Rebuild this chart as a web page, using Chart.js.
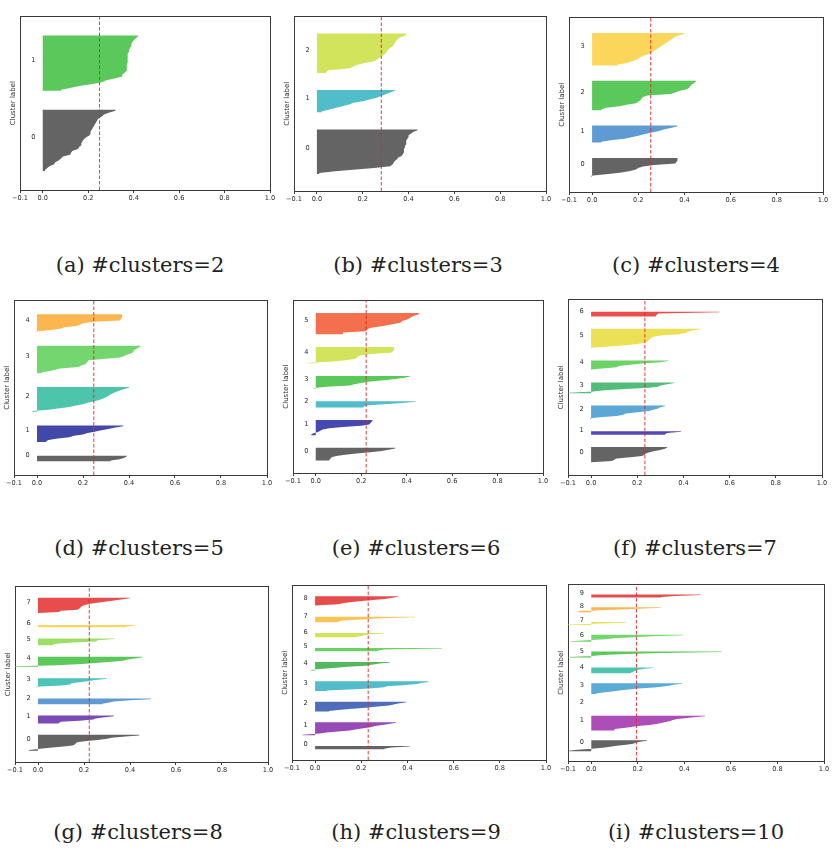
<!DOCTYPE html>
<html>
<head>
<meta charset="utf-8">
<script src="https://cdn.jsdelivr.net/npm/chart.js@4/dist/chart.umd.min.js"></script>
<style>
  html, body { margin: 0; padding: 0; background: #fff; }
  body { width: 832px; height: 852px; position: relative; overflow: hidden; }
  .panel { position: absolute; }
  .panel canvas { display: block; }
  .caption {
    position: absolute;
    font-family: "DejaVu Serif", "Liberation Serif", serif;
    font-size: 21px;
    color: #222;
    white-space: nowrap;
    transform: translate(-50%, -50%);
  }
</style>
</head>
<body>
<script>
// Silhouette coefficients per cluster, sorted ascending (one entry per sample),
// cluster 0 first. One array per clustering run.
const silK2 = [
  [0.01,0.02,0.03,0.05,0.055,0.07,0.08,0.09,0.12,0.125,0.13,0.155,0.16,0.17,0.17,0.175,0.18,0.19,0.205,0.21,0.21,0.215,0.22,0.225,0.23,0.235,0.24,0.245,0.26,0.27,0.29,0.32],
  [0.08,0.12,0.16,0.22,0.26,0.28,0.32,0.35,0.35,0.36,0.37,0.37,0.37,0.37,0.372,0.372,0.372,0.375,0.375,0.375,0.38,0.38,0.385,0.39,0.39,0.395,0.40,0.41,0.42]
];
const silK3 = [
  [0.01,0.08,0.17,0.25,0.32,0.33,0.335,0.34,0.35,0.355,0.37,0.375,0.38,0.38,0.38,0.385,0.385,0.39,0.39,0.39,0.395,0.40,0.40,0.41,0.42,0.44],
  [0.02,0.05,0.08,0.11,0.14,0.16,0.20,0.23,0.26,0.28,0.30,0.32,0.34],
  [0.04,0.05,0.14,0.155,0.17,0.20,0.24,0.26,0.27,0.28,0.29,0.30,0.305,0.31,0.32,0.33,0.335,0.34,0.345,0.35,0.36,0.38,0.39]
];
const silK4 = [
  [-0.005,0.06,0.12,0.16,0.19,0.20,0.22,0.27,0.36,0.365,0.37,0.37],
  [0.04,0.08,0.14,0.17,0.20,0.23,0.26,0.29,0.31,0.34,0.37],
  [0.04,0.06,0.12,0.15,0.19,0.20,0.21,0.215,0.22,0.24,0.34,0.36,0.38,0.41,0.42,0.425,0.43,0.44,0.45],
  [0.11,0.15,0.17,0.19,0.20,0.21,0.23,0.25,0.26,0.27,0.28,0.29,0.30,0.31,0.32,0.33,0.34,0.35,0.36,0.38,0.40]
];
const silK5 = [
  [0.32,0.36,0.38,0.39],
  [0.04,0.05,0.09,0.14,0.16,0.20,0.22,0.25,0.28,0.31,0.34,0.375],
  [-0.02,0.05,0.10,0.14,0.17,0.20,0.22,0.245,0.27,0.285,0.30,0.31,0.32,0.33,0.345,0.36,0.38,0.40],
  [0.02,0.05,0.08,0.10,0.18,0.19,0.21,0.215,0.22,0.225,0.30,0.36,0.38,0.39,0.41,0.42,0.42,0.43,0.44,0.45],
  [-0.005,0.06,0.10,0.12,0.17,0.19,0.20,0.25,0.36,0.365,0.37,0.37,0.37]
];
const silK6 = [
  [0.06,0.065,0.07,0.09,0.13,0.18,0.24,0.29,0.32,0.35],
  [-0.02,-0.01,0.01,0.02,0.03,0.06,0.12,0.20,0.235,0.24,0.245,0.25],
  [0.21,0.22,0.30,0.38,0.44],
  [-0.01,0.05,0.15,0.17,0.20,0.24,0.30,0.35,0.39,0.415],
  [-0.035,0.08,0.13,0.17,0.18,0.185,0.20,0.24,0.33,0.34,0.345,0.345,0.345],
  [0.12,0.12,0.22,0.225,0.23,0.25,0.29,0.32,0.35,0.375,0.38,0.40,0.41,0.42,0.43,0.45,0.455]
];
const silK7 = [
  [0.0,0.09,0.10,0.11,0.17,0.22,0.23,0.235,0.25,0.27,0.30,0.32,0.33],
  [0.32,0.33,0.39],
  [-0.005,0.05,0.11,0.14,0.15,0.20,0.25,0.27,0.29,0.30,0.32],
  [-0.10,0.01,0.06,0.15,0.25,0.29,0.30,0.33,0.36],
  [0.0,0.06,0.11,0.12,0.17,0.22,0.30,0.335],
  [0.0,0.08,0.15,0.20,0.23,0.245,0.25,0.255,0.26,0.27,0.30,0.38,0.41,0.42,0.44,0.475],
  [0.28,0.285,0.29,0.555]
];
const silK8 = [
  [-0.04,0.0,0.05,0.10,0.15,0.16,0.165,0.17,0.21,0.26,0.30,0.32,0.38,0.44],
  [0.09,0.10,0.18,0.24,0.25,0.29,0.33],
  [0.28,0.31,0.33,0.40,0.49],
  [-0.01,0.10,0.14,0.145,0.18,0.22,0.25,0.30],
  [-0.10,0.08,0.19,0.25,0.32,0.37,0.39,0.43,0.455],
  [0.065,0.08,0.15,0.25,0.26,0.335],
  [0.38,0.42],
  [0.0,0.09,0.10,0.17,0.18,0.185,0.19,0.20,0.22,0.25,0.29,0.33,0.36,0.40]
];
const silK9 = [
  [0.30,0.33,0.41],
  [-0.055,0.02,0.05,0.10,0.15,0.18,0.21,0.24,0.26,0.29,0.32,0.35],
  [0.06,0.10,0.16,0.22,0.26,0.32,0.34,0.36,0.395],
  [0.05,0.15,0.25,0.30,0.31,0.38,0.44,0.46,0.49],
  [-0.02,0.02,0.08,0.14,0.22,0.245,0.28,0.325],
  [0.27,0.30,0.55],
  [0.18,0.21,0.23,0.30],
  [0.10,0.12,0.20,0.28,0.43],
  [0.0,0.10,0.12,0.15,0.20,0.25,0.30,0.33,0.36]
];
const silK10 = [
  [-0.10,-0.06,0.0,0.05,0.08,0.11,0.15,0.18,0.19,0.21,0.24],
  [0.10,0.10,0.14,0.17,0.20,0.25,0.28,0.30,0.32,0.34,0.35,0.37,0.40,0.44,0.49],
  [0.0,0.0],
  [0.02,0.05,0.09,0.12,0.16,0.20,0.27,0.31,0.34,0.36,0.39],
  [0.17,0.18,0.19,0.20,0.23,0.27],
  [-0.10,0.0,0.05,0.15,0.30,0.56],
  [-0.09,-0.02,0.06,0.10,0.18,0.26,0.395],
  [-0.10,0.05,0.15],
  [-0.055,-0.05,0.10,0.20,0.30],
  [0.30,0.36,0.47]
];

// Mean silhouette score of each run (dashed red line)
const avgScores = [0.25, 0.281, 0.254, 0.247, 0.222, 0.233, 0.223, 0.23, 0.194];

// Shared x axis
const xTickValues = [-0.1, 0.0, 0.2, 0.4, 0.6, 0.8, 1.0];
const xTickLabels = ['\u22120.1', '0.0', '0.2', '0.4', '0.6', '0.8', '1.0'];

const captions = [
  '(a) #clusters=2', '(b) #clusters=3', '(c) #clusters=4',
  '(d) #clusters=5', '(e) #clusters=6', '(f) #clusters=7',
  '(g) #clusters=8', '(h) #clusters=9', '(i) #clusters=10'
];

const runs = [silK2, silK3, silK4, silK5, silK6, silK7, silK8, silK9, silK10];

// ---- layout: plot frame of each panel [left, top, right, bottom] in page px
const panelFrames = [
  [20, 3, 270, 190], [294, 3, 546, 191], [569, 4, 823, 192],
  [14, 287, 267, 475], [293, 287, 543, 473], [568, 286, 822, 475],
  [15, 573, 268, 762], [292, 572, 546, 760], [568, 571, 824, 761]
];
const captionCenters = [
  [140, 265], [418, 265], [696, 265],
  [139, 548], [416, 548], [695, 548],
  [138, 832], [416, 832], [696, 832]
];

const LEFT_BOX = 16, RIGHT_BOX = 8, TOP_PAD = 2, BOTTOM_BOX = 20;
const GAP = 10;                 // empty samples between clusters
const axisColor = '#3a3a3a';
const textColor = '#2a2a2a';
const smallFont = { family: '"DejaVu Sans", sans-serif', size: 6.6 };

// spectral palette as it appears on white (semi-transparent fills): [pos, r, g, b]
const spectralStops = [
  [0.00, 100, 100, 100], [0.05, 160, 77, 172], [0.10, 172, 77, 184], [0.15, 72, 70, 182],
  [0.20, 66, 72, 168], [0.25, 95, 155, 210], [0.30, 90, 172, 215], [0.35, 77, 196, 196],
  [0.40, 77, 196, 172], [0.45, 85, 182, 85], [0.50, 90, 200, 90], [0.55, 105, 208, 100],
  [0.60, 115, 214, 110], [0.65, 200, 228, 95], [0.70, 230, 228, 85], [0.75, 252, 214, 90],
  [0.80, 252, 182, 80], [0.85, 238, 76, 76], [0.90, 228, 76, 76], [0.95, 219, 77, 77],
  [1.00, 214, 214, 214]
];
function clusterColor(t) {
  let i = 0;
  while (i < spectralStops.length - 2 && t > spectralStops[i + 1][0]) i++;
  const a = spectralStops[i], b = spectralStops[i + 1];
  const f = Math.min(1, Math.max(0, (t - a[0]) / (b[0] - a[0])));
  const ch = k => Math.round(a[k] + (b[k] - a[k]) * f);
  return `rgb(${ch(1)},${ch(2)},${ch(3)})`;
}

// closed outline of one cluster's silhouette, filled against x = 0
function silhouettePolygon(values, yLower) {
  const n = values.length;
  const pts = [{ x: 0, y: yLower }, { x: values[0], y: yLower }];
  values.forEach((v, i) => pts.push({ x: v, y: yLower + i + 0.5 }));
  pts.push({ x: values[n - 1], y: yLower + n });
  pts.push({ x: 0, y: yLower + n });
  pts.push({ x: 0, y: yLower });
  return pts;
}

runs.forEach((clusters, p) => {
  const [L, T, R, B] = panelFrames[p];
  const W = (R - L) + LEFT_BOX + RIGHT_BOX;
  const H = (B - T) + TOP_PAD + BOTTOM_BOX;

  const wrap = document.createElement('div');
  wrap.className = 'panel';
  wrap.style.left = (L - LEFT_BOX) + 'px';
  wrap.style.top = (T - TOP_PAD) + 'px';
  const canvas = document.createElement('canvas');
  canvas.width = W; canvas.height = H;
  canvas.style.width = W + 'px'; canvas.style.height = H + 'px';
  wrap.appendChild(canvas);
  document.body.appendChild(wrap);

  const k = clusters.length;
  const datasets = [];
  const centers = [];
  let yLower = GAP;
  clusters.forEach((vals, c) => {
    const col = clusterColor(c / k);
    datasets.push({
      data: silhouettePolygon(vals, yLower),
      showLine: true, fill: 'shape',
      backgroundColor: col, borderColor: col, borderWidth: 0,
      pointRadius: 0, pointHoverRadius: 0, order: 2
    });
    centers.push(yLower + vals.length / 2);
    yLower += vals.length + GAP;
  });
  const yMax = yLower;

  datasets.unshift({
    data: [{ x: avgScores[p], y: 0 }, { x: avgScores[p], y: yMax }],
    showLine: true, fill: false,
    borderColor: 'rgba(222,40,40,0.9)', borderWidth: 1, borderDash: [3.5, 2],
    pointRadius: 0, pointHoverRadius: 0, order: 0
  });

  const plotWidth = R - L;
  const labelPad = 0.05 * plotWidth / 1.1;

  new Chart(canvas, {
    type: 'scatter',
    data: { datasets },
    options: {
      responsive: false,
      animation: false,
      events: [],
      layout: { padding: { left: 0, right: 0, top: TOP_PAD, bottom: 0 } },
      plugins: { legend: { display: false }, tooltip: { enabled: false } },
      scales: {
        x: {
          type: 'linear', position: 'bottom', min: -0.1, max: 1.0,
          afterBuildTicks: s => { s.ticks = xTickValues.map(v => ({ value: v })); },
          afterFit: s => { s.height = BOTTOM_BOX; },
          grid: { drawOnChartArea: false, drawTicks: true, tickLength: 3, color: axisColor, lineWidth: 1 },
          border: { display: true, color: axisColor, width: 1 },
          ticks: {
            autoSkip: false, maxRotation: 0, minRotation: 0, padding: 1,
            color: textColor, font: smallFont,
            callback: (v, i) => xTickLabels[i]
          }
        },
        xTop: {
          type: 'linear', position: 'top', min: -0.1, max: 1.0, display: true,
          afterFit: s => { s.height = 0; },
          grid: { display: false },
          border: { display: true, color: axisColor, width: 1 },
          ticks: { display: false }
        },
        y: {
          type: 'linear', position: 'left', min: 0, max: yMax,
          afterBuildTicks: s => { s.ticks = centers.map(v => ({ value: v })); },
          afterFit: s => { s.width = LEFT_BOX; },
          grid: { display: false },
          border: { display: true, color: axisColor, width: 1 },
          ticks: {
            mirror: true, padding: labelPad, labelOffset: -3, autoSkip: false,
            color: textColor, font: smallFont,
            callback: (v, i) => String(i)
          },
          title: {
            display: true, text: 'Cluster label', color: textColor,
            font: { family: '"DejaVu Sans", sans-serif', size: 7 },
            padding: { top: 5.3, bottom: 0 }
          }
        },
        yRight: {
          type: 'linear', position: 'right', min: 0, max: yMax, display: true,
          afterFit: s => { s.width = RIGHT_BOX; },
          grid: { display: false },
          border: { display: true, color: axisColor, width: 1 },
          ticks: { display: false }
        }
      }
    }
  });

  const cap = document.createElement('div');
  cap.className = 'caption';
  cap.textContent = captions[p];
  cap.style.left = captionCenters[p][0] + 'px';
  cap.style.top = captionCenters[p][1] + 'px';
  document.body.appendChild(cap);
});
</script>
</body>
</html>
